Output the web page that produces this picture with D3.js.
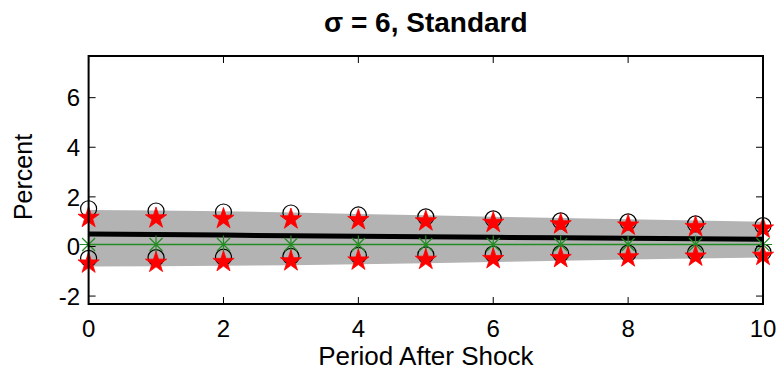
<!DOCTYPE html>
<html>
<head>
<meta charset="utf-8">
<script src="https://cdn.jsdelivr.net/npm/d3@7"></script>
<style>
  html, body { margin: 0; padding: 0; background: #fff; }
  svg { display: block; }
  text { font-family: "Liberation Sans", Arial, Helvetica, sans-serif; }
</style>
</head>
<body>
<svg id="chart" width="782" height="372"></svg>
<script>
// ---- data ----
const periods = [0, 1, 2, 3, 4, 5, 6, 7, 8, 9, 10];
const median = [0.50, 0.48, 0.46, 0.43, 0.41, 0.39, 0.37, 0.35, 0.33, 0.31, 0.29];
const bandUpper = [1.47, 1.45, 1.42, 1.37, 1.31, 1.26, 1.20, 1.15, 1.10, 1.05, 1.00];
const bandLower = [-0.81, -0.80, -0.78, -0.76, -0.72, -0.68, -0.63, -0.58, -0.53, -0.49, -0.45];
const circleUpper = [1.52, 1.43, 1.39, 1.35, 1.27, 1.19, 1.11, 1.03, 0.99, 0.91, 0.84];
const circleLower = [-0.48, -0.45, -0.43, -0.40, -0.36, -0.34, -0.31, -0.29, -0.27, -0.25, -0.23];
const starUpper = [1.16, 1.14, 1.12, 1.10, 1.07, 1.02, 0.96, 0.90, 0.85, 0.79, 0.73];
const starLower = [-0.68, -0.65, -0.62, -0.59, -0.56, -0.53, -0.50, -0.46, -0.43, -0.40, -0.37];
const greenLine = [0.08, 0.08, 0.08, 0.08, 0.08, 0.08, 0.08, 0.08, 0.08, 0.08, 0.08];
const xTicks = [0, 2, 4, 6, 8, 10];
const yTicks = [-2, 0, 2, 4, 6];
const titleText = "σ = 6, Standard";
const xLabel = "Period After Shock";
const yLabel = "Percent";

// ---- layout ----
const svg = d3.select("#chart");
const L = 88.6, R = 763, T = 56, B = 304;
const x = d3.scaleLinear().domain([0, 10]).range([L, R]);
const y = d3.scaleLinear().domain([-2.32, 7.68]).range([B, T]);

const g = svg.append("g");

// band
const area = d3.area().x((d, i) => x(periods[i])).y0((d, i) => y(bandLower[i])).y1((d, i) => y(bandUpper[i]));
g.append("path").datum(periods).attr("d", area).attr("fill", "#b3b3b3").attr("stroke", "none");

// median thick line
const line = arr => d3.line().x((d, i) => x(periods[i])).y((d, i) => y(arr[i]))(periods);
g.append("path").attr("d", line(median)).attr("fill", "none").attr("stroke", "#000").attr("stroke-width", 5);

// green line
g.append("path").attr("d", line(greenLine)).attr("fill", "none").attr("stroke", "#228B22").attr("stroke-width", 1.3);

// circles
[circleUpper, circleLower].forEach(arr => {
  g.selectAll(null).data(periods).enter().append("circle")
    .attr("cx", d => x(d)).attr("cy", (d, i) => y(arr[i])).attr("r", 8)
    .attr("fill", "none").attr("stroke", "#000").attr("stroke-width", 1.2);
});

// asterisks (green)
const astSize = 9;
periods.forEach((p, i) => {
  const cx = x(p), cy = y(greenLine[i]);
  const a = astSize, b = astSize * 0.72;
  const path = `M${cx - b},${cy - b}L${cx + b},${cy + b}M${cx - b},${cy + b}L${cx + b},${cy - b}M${cx},${cy - a}L${cx},${cy + a}M${cx - a},${cy}L${cx + a},${cy}`;
  g.append("path").attr("d", path).attr("stroke", "#228B22").attr("stroke-width", 1.2).attr("fill", "none");
});

// stars
const star = d3.symbol().type(d3.symbolStar).size(140);
[starUpper, starLower].forEach(arr => {
  g.selectAll(null).data(periods).enter().append("path")
    .attr("d", star)
    .attr("transform", (d, i) => `translate(${x(d)},${y(arr[i])})`)
    .attr("fill", "#ff0000").attr("stroke", "#ff0000").attr("stroke-width", 0.8);
});

// ---- axes box & ticks ----
const ax = svg.append("g");
ax.append("rect").attr("x", L).attr("y", T).attr("width", R - L).attr("height", B - T)
  .attr("fill", "none").attr("stroke", "#000").attr("stroke-width", 2);

const tl = 7;
xTicks.forEach(t => {
  ax.append("line").attr("x1", x(t)).attr("x2", x(t)).attr("y1", B).attr("y2", B - tl).attr("stroke", "#000").attr("stroke-width", 1);
  ax.append("line").attr("x1", x(t)).attr("x2", x(t)).attr("y1", T).attr("y2", T + tl).attr("stroke", "#000").attr("stroke-width", 1);
  ax.append("text").attr("x", x(t)).attr("y", 337).attr("text-anchor", "middle")
    .attr("font-size", 24).text(t);
});
yTicks.forEach(t => {
  ax.append("line").attr("x1", L).attr("x2", L + tl).attr("y1", y(t)).attr("y2", y(t)).attr("stroke", "#000").attr("stroke-width", 1);
  ax.append("line").attr("x1", R).attr("x2", R - tl).attr("y1", y(t)).attr("y2", y(t)).attr("stroke", "#000").attr("stroke-width", 1);
  ax.append("text").attr("x", 80).attr("y", y(t)).attr("dy", "0.36em").attr("text-anchor", "end")
    .attr("font-size", 24).text(t < 0 ? "-" + Math.abs(t) : t);
});

// labels
svg.append("text").attr("x", (L + R) / 2).attr("y", 365).attr("text-anchor", "middle")
  .attr("font-size", 26).text(xLabel);
svg.append("text").attr("transform", `translate(32,${(T + B) / 2 - 3}) rotate(-90)`).attr("text-anchor", "middle")
  .attr("font-size", 25).text(yLabel);
svg.append("text").attr("x", (L + R) / 2).attr("y", 32).attr("text-anchor", "middle")
  .attr("font-size", 28).attr("font-weight", "bold").text(titleText);
</script>
</body>
</html>
